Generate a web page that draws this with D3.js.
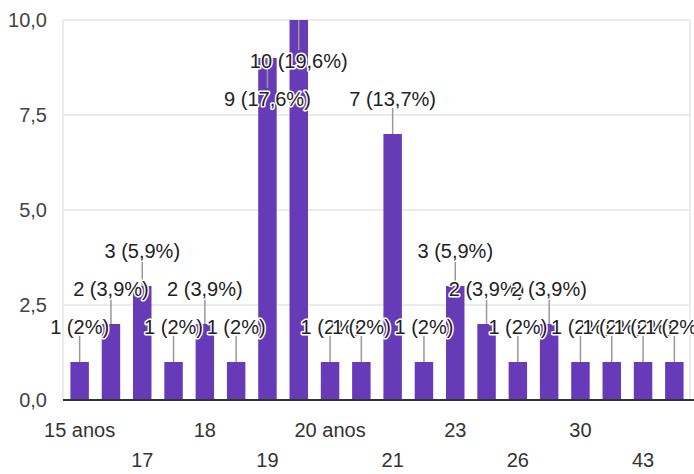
<!DOCTYPE html>
<html>
<head>
<meta charset="utf-8">
<script src="https://cdn.jsdelivr.net/npm/d3@7"></script>
<style>
  body { margin: 0; background: #fff; }
  text { font-family: "Liberation Sans", Arial, sans-serif; }
</style>
</head>
<body>
<div id="chart"></div>
<script>
// answers (age) and counts
var categories = ["15 anos", "16", "17", "17 anos", "18", "18 anos", "19", "19 anos", "20 anos", "20",
                  "21", "22", "23", "25", "26", "27", "30", "35", "43", "45"];
var counts = [1, 2, 3, 1, 2, 1, 9, 10, 1, 1, 7, 1, 3, 2, 1, 2, 1, 1, 1, 1];
var yTicks = [0, 2.5, 5, 7.5, 10];

var total = d3.sum(counts);
var ptBR = d3.formatLocale({decimal: ",", thousands: ".", grouping: [3], currency: ["R$", ""]});
var fmtTick = ptBR.format(".1f");
var fmtPct = function(v) {
    var p = Math.round(v / total * 1000) / 10;
    return (p % 1 === 0 ? ptBR.format("d")(p) : ptBR.format(".1f")(p)) + "%";
};

var width = 694, height = 474;
var margin = {top: 20, right: 4, bottom: 74, left: 63};

var svg = d3.select("#chart").append("svg")
    .attr("width", width)
    .attr("height", height);

var x = d3.scaleBand()
    .domain(categories)
    .range([64, 690])
    .paddingInner(0.41)
    .paddingOuter(0.205);

var y = d3.scaleLinear()
    .domain([0, 10])
    .range([height - margin.bottom, margin.top]);

// gridlines
svg.append("g")
    .selectAll("line")
    .data(yTicks.slice(1))
    .enter().append("line")
    .attr("x1", margin.left)
    .attr("x2", 690)
    .attr("y1", d => y(d))
    .attr("y2", d => y(d))
    .attr("stroke", "#ebebeb")
    .attr("stroke-width", 2);

// side borders
svg.append("g")
    .selectAll("line")
    .data([margin.left, 690])
    .enter().append("line")
    .attr("x1", d => d)
    .attr("x2", d => d)
    .attr("y1", y(10))
    .attr("y2", y(0))
    .attr("stroke", "#ebebeb")
    .attr("stroke-width", 2);

// y axis labels
var yAxis = svg.append("g")
    .attr("transform", "translate(47,0)")
    .call(d3.axisLeft(y).tickValues(yTicks).tickFormat(fmtTick).tickSize(0).tickPadding(0));
yAxis.select(".domain").remove();
yAxis.selectAll("text")
    .attr("font-size", 20)
    .attr("font-family", "Liberation Sans, Arial, sans-serif")
    .attr("fill", "#444");

// bars
svg.append("g")
    .selectAll("rect")
    .data(counts)
    .enter().append("rect")
    .attr("x", (d, i) => x(categories[i]))
    .attr("width", x.bandwidth())
    .attr("y", d => y(d))
    .attr("height", d => y(0) - y(d))
    .attr("fill", "#673ab7");

// baseline
svg.append("line")
    .attr("x1", margin.left)
    .attr("x2", width)
    .attr("y1", y(0))
    .attr("y2", y(0))
    .attr("stroke", "#333")
    .attr("stroke-width", 2);

// x axis labels, staggered in two rows
var xAxis = svg.append("g")
    .attr("transform", "translate(0," + y(0) + ")")
    .call(d3.axisBottom(x)
        .tickValues(categories.filter((c, i) => i % 2 === 0))
        .tickSize(0));
xAxis.select(".domain").remove();
xAxis.selectAll("text")
    .attr("font-size", 20)
    .attr("font-family", "Liberation Sans, Arial, sans-serif")
    .attr("fill", "#333")
    .attr("dy", null)
    .attr("y", (d, i) => i % 2 === 0 ? 37 : 67);

// data labels: above the bar, or inside it when there is no room
function labelY(v) {
    return y(v) - 45 > margin.top ? y(v) - 35 : y(v) + 41;
}

svg.append("g")
    .selectAll("line")
    .data(counts)
    .enter().append("line")
    .attr("x1", (d, i) => x(categories[i]) + x.bandwidth() / 2)
    .attr("x2", (d, i) => x(categories[i]) + x.bandwidth() / 2)
    .attr("y1", d => y(d))
    .attr("y2", d => labelY(d) < y(d) ? labelY(d) + 9 : labelY(d) - 11)
    .attr("stroke", "#999")
    .attr("stroke-width", 1.5);

var labels = svg.append("g");
counts.forEach(function(v, i) {
    labels.append("text")
        .attr("x", x(categories[i]) + x.bandwidth() / 2)
        .attr("y", labelY(v))
        .attr("dy", "0.36em")
        .attr("text-anchor", "middle")
        .attr("font-size", 20)
        .attr("fill", "#222")
        .attr("stroke", "#fff")
        .attr("stroke-width", 3)
        .attr("stroke-linejoin", "round")
        .attr("paint-order", "stroke")
        .text(v + " (" + fmtPct(v) + ")");
});
</script>
</body>
</html>
